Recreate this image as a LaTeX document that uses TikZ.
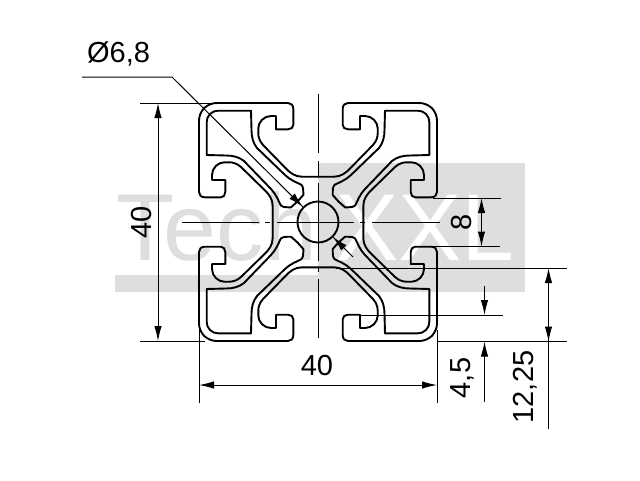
\documentclass[tikz,border=0pt]{standalone}
\usepackage{fontspec}
\setmainfont{Liberation Sans}
\usetikzlibrary{arrows.meta}
\tikzset{>={Latex[length=15pt,width=7.5pt]}}
\tikzset{contour/.style={line width=1.9pt,line cap=round,line join=round}}
\tikzset{thin line/.style={line width=1pt}}
\tikzset{dimtext/.style={inner sep=0pt,font=\fontsize{29}{29}\selectfont}}
\tikzset{marktext/.style={inner sep=0pt,font=\fontsize{95}{95}\selectfont}}
\definecolor{markgray}{gray}{0.87}
\begin{document}
\begin{tikzpicture}[x=1pt,y=-1pt]
\useasboundingbox (0,0) rectangle (640,480);
%watermark
\fill[markgray] (318,163) rectangle (525,292);
\fill[markgray] (115,275) rectangle (318,292);
\node[marktext,anchor=base west,text=markgray] (tech) at (116,260) {Tech};
\node[marktext,anchor=base west,text=white] (xxl) at (335,260) {XXL};
%profile, one eighth at a time
\begin{scope}[shift={(318,222)}]
\foreach \a/\b/\c/\d in {1/0/0/1,-1/0/0/1,1/0/0/-1,-1/0/0/-1,0/1/1/0,0/-1/1/0,0/1/-1/0,0/-1/-1/0}{
\begin{scope}[cm={\a,\b,\c,\d,(0,0)}]
    %outer line
    \draw[contour] (0,-45.3) -- (-16,-45.3)
        .. controls (-23,-45.3) and (-28,-49) .. (-33,-54.5)
        -- (-55,-77)
        .. controls (-58.5,-81) and (-59.7,-85) .. (-59.7,-88.7)
        -- (-59.7,-93.7)
        .. controls (-59.7,-100) and (-54,-106) .. (-47,-106)
        -- (-42,-106) -- (-42,-92.7) -- (-30,-92.7)
        .. controls (-27,-92.7) and (-24.7,-94.5) .. (-24.7,-97)
        -- (-24.7,-113)
        .. controls (-24.7,-117) and (-27,-119) .. (-30,-119)
        -- (-101,-119)
        .. controls (-105.5,-119) and (-110,-117.5) .. (-113.9,-113.9);
    %inner line
    \draw[contour] (-108,-108)
        .. controls (-105.5,-110.3) and (-103,-111.3) .. (-100,-111.3)
        -- (-67,-111.3) -- (-66.5,-92)
        .. controls (-66.5,-85) and (-65,-79) .. (-61,-74)
        -- (-33,-47)
        .. controls (-28,-42) and (-21,-39.5) .. (-16.3,-37)
        .. controls (-15,-35.5) and (-14.7,-33) .. (-14.7,-30)
        -- (-14.7,-27) -- (-20.5,-20.5);
\end{scope}
}
\node[contour,draw,circle,minimum size=41pt,inner sep=0pt] (bore) at (0,0) {};
\end{scope}
%center lines
\draw[thin line,dash pattern=on 77pt off 6pt on 5pt off 7pt] (182,222) -- (440,222);
\draw[thin line,dash pattern=on 59pt off 8pt on 15pt off 7pt on 78pt off 7pt on 4pt off 7pt] (318,94) -- (318,340);
%diameter
\coordinate (leadA) at (82,77);
\coordinate (leadB) at (172,77);
\coordinate (leadC) at (353,257);
\draw[thin line] (leadA) -- (leadB) -- (bore.135);
\draw[thin line] (bore.-45) -- (leadC);
\draw[thin line,<-] (bore.135) -- ++(-10.6,-10.6);
\draw[thin line,<-] (bore.-45) -- ++(10.6,10.6);
\node[dimtext] (dia) at (118.5,54) {Ø6,8};
%left 40
\coordinate (topA) at (140,103);
\coordinate (topB) at (218,103);
\coordinate (lowA) at (140,341);
\coordinate (lowB) at (205,341);
\draw[thin line] (topA) -- (topB);
\draw[thin line] (lowA) -- (lowB);
\draw[thin line,<->] (158,103) -- (158,341);
\node[dimtext,rotate=90] (heightlabel) at (142,222) {40};
%bottom 40
\coordinate (widthA) at (199,330);
\coordinate (widthB) at (437,330);
\draw[thin line] (widthA) -- (199,403);
\draw[thin line] (widthB) -- (437,403);
\draw[thin line,<->] (199,385) -- (437,385);
\node[dimtext] (widthlabel) at (317,366) {40};
%slot 8
\draw[thin line] (433,198) -- (501,198);
\draw[thin line] (433,246.5) -- (500,246.5);
\draw[thin line,<->] (481.5,198) -- (481.5,246.5);
\node[dimtext,rotate=90] (slotlabel) at (462,222) {8};
%4,5
\draw[thin line] (360,315) -- (503,315);
\draw[thin line,->] (484.5,286) -- (484.5,315);
\draw[thin line,->] (484.5,402) -- (484.5,341.5);
\node[dimtext,rotate=90] (lipLabel) at (462,378) {4,5};
%12,25
\draw[thin line] (336,268) -- (567,268);
\draw[thin line] (437,341.5) -- (567,341.5);
\draw[thin line,<-] (548.5,268) -- (548.5,429);
\draw[thin line,->] (548.5,300) -- (548.5,341.5);
\node[dimtext,rotate=90] (depthlabel) at (525,387) {12,25};
\end{tikzpicture}
\end{document}
